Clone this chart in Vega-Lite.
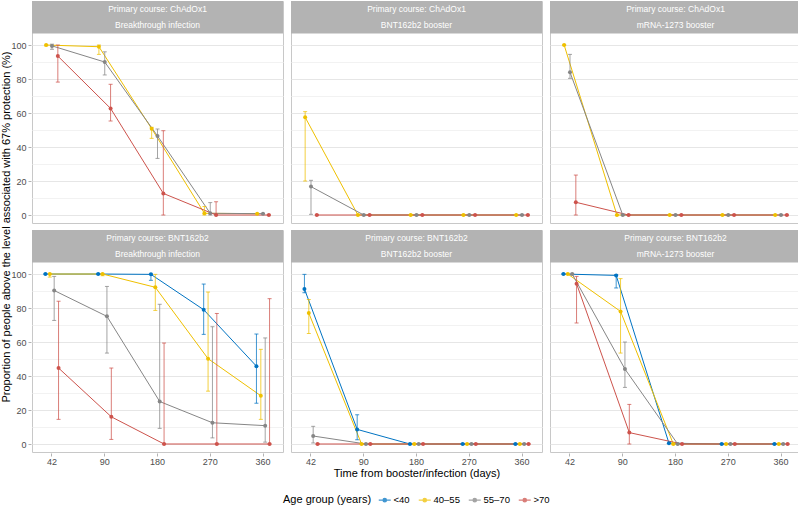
{
  "$schema": "https://vega.github.io/schema/vega-lite/v6.json",
  "background": "white",
  "padding": {"left": 0, "top": 0, "right": 2, "bottom": 0},
  "config": {
    "font": "Liberation Sans",
    "view": {"stroke": "#C8C8C8", "strokeWidth": 1},
    "axis": {
      "domain": false,
      "labelColor": "#4D4D4D",
      "labelFontSize": 9,
      "tickColor": "#B3B3B3",
      "tickSize": 3,
      "titleColor": "black",
      "titleFontSize": 11,
      "titleFontWeight": "normal"
    },
    "header": {
      "titleFontSize": 11,
      "titleFontWeight": "normal",
      "titleColor": "black",
      "labels": false,
      "labelPadding": 0
    },
    "legend": {
      "labelFontSize": 9.5,
      "titleFontSize": 11,
      "titleFontWeight": "normal",
      "labelColor": "black"
    }
  },
  "data": {
    "values": [
      {"primary": "ChAdOx1", "booster": "Breakthrough infection", "age": "40–55", "day": 42, "pct": 100, "lo": 99.5, "hi": 100},
      {"primary": "ChAdOx1", "booster": "Breakthrough infection", "age": "40–55", "day": 90, "pct": 99, "lo": 94.5, "hi": 100},
      {"primary": "ChAdOx1", "booster": "Breakthrough infection", "age": "40–55", "day": 180, "pct": 50.8, "lo": 45.1, "hi": 51.6},
      {"primary": "ChAdOx1", "booster": "Breakthrough infection", "age": "40–55", "day": 270, "pct": 1, "lo": 0, "hi": 5},
      {"primary": "ChAdOx1", "booster": "Breakthrough infection", "age": "40–55", "day": 360, "pct": 0.8, "lo": 0.8, "hi": 0.8},
      {"primary": "ChAdOx1", "booster": "Breakthrough infection", "age": "55–70", "day": 42, "pct": 99.5, "lo": 97.5, "hi": 100.5},
      {"primary": "ChAdOx1", "booster": "Breakthrough infection", "age": "55–70", "day": 90, "pct": 90, "lo": 82.4, "hi": 96},
      {"primary": "ChAdOx1", "booster": "Breakthrough infection", "age": "55–70", "day": 180, "pct": 46.5, "lo": 33.3, "hi": 50.6},
      {"primary": "ChAdOx1", "booster": "Breakthrough infection", "age": "55–70", "day": 270, "pct": 1, "lo": 0, "hi": 7.3},
      {"primary": "ChAdOx1", "booster": "Breakthrough infection", "age": "55–70", "day": 360, "pct": 0.8, "lo": 0.8, "hi": 0.8},
      {"primary": "ChAdOx1", "booster": "Breakthrough infection", "age": ">70", "day": 42, "pct": 93.5, "lo": 78.2, "hi": 100},
      {"primary": "ChAdOx1", "booster": "Breakthrough infection", "age": ">70", "day": 90, "pct": 62.7, "lo": 55.3, "hi": 76.9},
      {"primary": "ChAdOx1", "booster": "Breakthrough infection", "age": ">70", "day": 180, "pct": 12.7, "lo": 0, "hi": 49.6},
      {"primary": "ChAdOx1", "booster": "Breakthrough infection", "age": ">70", "day": 270, "pct": 0, "lo": 0, "hi": 7.8},
      {"primary": "ChAdOx1", "booster": "Breakthrough infection", "age": ">70", "day": 360, "pct": 0, "lo": 0, "hi": 0},

      {"primary": "ChAdOx1", "booster": "BNT162b2 booster", "age": "40–55", "day": 42, "pct": 57.5, "lo": 20, "hi": 60.8},
      {"primary": "ChAdOx1", "booster": "BNT162b2 booster", "age": "40–55", "day": 90, "pct": 0, "lo": 0, "hi": 0},
      {"primary": "ChAdOx1", "booster": "BNT162b2 booster", "age": "40–55", "day": 180, "pct": 0, "lo": 0, "hi": 0},
      {"primary": "ChAdOx1", "booster": "BNT162b2 booster", "age": "40–55", "day": 270, "pct": 0, "lo": 0, "hi": 0},
      {"primary": "ChAdOx1", "booster": "BNT162b2 booster", "age": "40–55", "day": 360, "pct": 0, "lo": 0, "hi": 0},
      {"primary": "ChAdOx1", "booster": "BNT162b2 booster", "age": "55–70", "day": 42, "pct": 16.7, "lo": 0.4, "hi": 20.4},
      {"primary": "ChAdOx1", "booster": "BNT162b2 booster", "age": "55–70", "day": 90, "pct": 0, "lo": 0, "hi": 0},
      {"primary": "ChAdOx1", "booster": "BNT162b2 booster", "age": "55–70", "day": 180, "pct": 0, "lo": 0, "hi": 0},
      {"primary": "ChAdOx1", "booster": "BNT162b2 booster", "age": "55–70", "day": 270, "pct": 0, "lo": 0, "hi": 0},
      {"primary": "ChAdOx1", "booster": "BNT162b2 booster", "age": "55–70", "day": 360, "pct": 0, "lo": 0, "hi": 0},
      {"primary": "ChAdOx1", "booster": "BNT162b2 booster", "age": ">70", "day": 42, "pct": 0, "lo": 0, "hi": 0},
      {"primary": "ChAdOx1", "booster": "BNT162b2 booster", "age": ">70", "day": 90, "pct": 0, "lo": 0, "hi": 0},
      {"primary": "ChAdOx1", "booster": "BNT162b2 booster", "age": ">70", "day": 180, "pct": 0, "lo": 0, "hi": 0},
      {"primary": "ChAdOx1", "booster": "BNT162b2 booster", "age": ">70", "day": 270, "pct": 0, "lo": 0, "hi": 0},
      {"primary": "ChAdOx1", "booster": "BNT162b2 booster", "age": ">70", "day": 360, "pct": 0, "lo": 0, "hi": 0},

      {"primary": "ChAdOx1", "booster": "mRNA-1273 booster", "age": "40–55", "day": 42, "pct": 100, "lo": 100, "hi": 100},
      {"primary": "ChAdOx1", "booster": "mRNA-1273 booster", "age": "40–55", "day": 90, "pct": 0, "lo": 0, "hi": 0},
      {"primary": "ChAdOx1", "booster": "mRNA-1273 booster", "age": "40–55", "day": 180, "pct": 0, "lo": 0, "hi": 0},
      {"primary": "ChAdOx1", "booster": "mRNA-1273 booster", "age": "40–55", "day": 270, "pct": 0, "lo": 0, "hi": 0},
      {"primary": "ChAdOx1", "booster": "mRNA-1273 booster", "age": "40–55", "day": 360, "pct": 0, "lo": 0, "hi": 0},
      {"primary": "ChAdOx1", "booster": "mRNA-1273 booster", "age": "55–70", "day": 42, "pct": 84, "lo": 80.4, "hi": 94.5},
      {"primary": "ChAdOx1", "booster": "mRNA-1273 booster", "age": "55–70", "day": 90, "pct": 0, "lo": 0, "hi": 0},
      {"primary": "ChAdOx1", "booster": "mRNA-1273 booster", "age": "55–70", "day": 180, "pct": 0, "lo": 0, "hi": 0},
      {"primary": "ChAdOx1", "booster": "mRNA-1273 booster", "age": "55–70", "day": 270, "pct": 0, "lo": 0, "hi": 0},
      {"primary": "ChAdOx1", "booster": "mRNA-1273 booster", "age": "55–70", "day": 360, "pct": 0, "lo": 0, "hi": 0},
      {"primary": "ChAdOx1", "booster": "mRNA-1273 booster", "age": ">70", "day": 42, "pct": 7.5, "lo": 0, "hi": 23.5},
      {"primary": "ChAdOx1", "booster": "mRNA-1273 booster", "age": ">70", "day": 90, "pct": 0, "lo": 0, "hi": 0},
      {"primary": "ChAdOx1", "booster": "mRNA-1273 booster", "age": ">70", "day": 180, "pct": 0, "lo": 0, "hi": 0},
      {"primary": "ChAdOx1", "booster": "mRNA-1273 booster", "age": ">70", "day": 270, "pct": 0, "lo": 0, "hi": 0},
      {"primary": "ChAdOx1", "booster": "mRNA-1273 booster", "age": ">70", "day": 360, "pct": 0, "lo": 0, "hi": 0},

      {"primary": "BNT162b2", "booster": "Breakthrough infection", "age": "<40", "day": 42, "pct": 100, "lo": 100, "hi": 100},
      {"primary": "BNT162b2", "booster": "Breakthrough infection", "age": "<40", "day": 90, "pct": 100, "lo": 100, "hi": 100},
      {"primary": "BNT162b2", "booster": "Breakthrough infection", "age": "<40", "day": 180, "pct": 99.8, "lo": 96.3, "hi": 100},
      {"primary": "BNT162b2", "booster": "Breakthrough infection", "age": "<40", "day": 270, "pct": 79, "lo": 64.5, "hi": 94.1},
      {"primary": "BNT162b2", "booster": "Breakthrough infection", "age": "<40", "day": 360, "pct": 45.8, "lo": 24, "hi": 64.7},
      {"primary": "BNT162b2", "booster": "Breakthrough infection", "age": "40–55", "day": 42, "pct": 100, "lo": 98.2, "hi": 100},
      {"primary": "BNT162b2", "booster": "Breakthrough infection", "age": "40–55", "day": 90, "pct": 100, "lo": 99, "hi": 100},
      {"primary": "BNT162b2", "booster": "Breakthrough infection", "age": "40–55", "day": 180, "pct": 92.2, "lo": 78.6, "hi": 99.8},
      {"primary": "BNT162b2", "booster": "Breakthrough infection", "age": "40–55", "day": 270, "pct": 50.2, "lo": 31.1, "hi": 89.4},
      {"primary": "BNT162b2", "booster": "Breakthrough infection", "age": "40–55", "day": 360, "pct": 28.4, "lo": 14.5, "hi": 55.7},
      {"primary": "BNT162b2", "booster": "Breakthrough infection", "age": "55–70", "day": 42, "pct": 90.3, "lo": 72.7, "hi": 98.6},
      {"primary": "BNT162b2", "booster": "Breakthrough infection", "age": "55–70", "day": 90, "pct": 75.1, "lo": 53.5, "hi": 92.7},
      {"primary": "BNT162b2", "booster": "Breakthrough infection", "age": "55–70", "day": 180, "pct": 25, "lo": 9.2, "hi": 82.2},
      {"primary": "BNT162b2", "booster": "Breakthrough infection", "age": "55–70", "day": 270, "pct": 12.5, "lo": 3.6, "hi": 69},
      {"primary": "BNT162b2", "booster": "Breakthrough infection", "age": "55–70", "day": 360, "pct": 10.8, "lo": 1.1, "hi": 62.4},
      {"primary": "BNT162b2", "booster": "Breakthrough infection", "age": ">70", "day": 42, "pct": 44.7, "lo": 14.5, "hi": 84},
      {"primary": "BNT162b2", "booster": "Breakthrough infection", "age": ">70", "day": 90, "pct": 16, "lo": 2.7, "hi": 44.7},
      {"primary": "BNT162b2", "booster": "Breakthrough infection", "age": ">70", "day": 180, "pct": 0, "lo": 0, "hi": 59.4},
      {"primary": "BNT162b2", "booster": "Breakthrough infection", "age": ">70", "day": 270, "pct": 0, "lo": 0, "hi": 76.8},
      {"primary": "BNT162b2", "booster": "Breakthrough infection", "age": ">70", "day": 360, "pct": 0, "lo": 0, "hi": 85.5},

      {"primary": "BNT162b2", "booster": "BNT162b2 booster", "age": "<40", "day": 42, "pct": 91.2, "lo": 89, "hi": 99.8},
      {"primary": "BNT162b2", "booster": "BNT162b2 booster", "age": "<40", "day": 90, "pct": 8.6, "lo": 2.5, "hi": 17.2},
      {"primary": "BNT162b2", "booster": "BNT162b2 booster", "age": "<40", "day": 180, "pct": 0, "lo": 0, "hi": 0},
      {"primary": "BNT162b2", "booster": "BNT162b2 booster", "age": "<40", "day": 270, "pct": 0, "lo": 0, "hi": 0},
      {"primary": "BNT162b2", "booster": "BNT162b2 booster", "age": "<40", "day": 360, "pct": 0, "lo": 0, "hi": 0},
      {"primary": "BNT162b2", "booster": "BNT162b2 booster", "age": "40–55", "day": 42, "pct": 77, "lo": 65, "hi": 85},
      {"primary": "BNT162b2", "booster": "BNT162b2 booster", "age": "40–55", "day": 90, "pct": 0, "lo": 0, "hi": 0},
      {"primary": "BNT162b2", "booster": "BNT162b2 booster", "age": "40–55", "day": 180, "pct": 0, "lo": 0, "hi": 0},
      {"primary": "BNT162b2", "booster": "BNT162b2 booster", "age": "40–55", "day": 270, "pct": 0, "lo": 0, "hi": 0},
      {"primary": "BNT162b2", "booster": "BNT162b2 booster", "age": "40–55", "day": 360, "pct": 0, "lo": 0, "hi": 0},
      {"primary": "BNT162b2", "booster": "BNT162b2 booster", "age": "55–70", "day": 42, "pct": 4.7, "lo": 0.6, "hi": 10.4},
      {"primary": "BNT162b2", "booster": "BNT162b2 booster", "age": "55–70", "day": 90, "pct": 0, "lo": 0, "hi": 0},
      {"primary": "BNT162b2", "booster": "BNT162b2 booster", "age": "55–70", "day": 180, "pct": 0, "lo": 0, "hi": 0},
      {"primary": "BNT162b2", "booster": "BNT162b2 booster", "age": "55–70", "day": 270, "pct": 0, "lo": 0, "hi": 0},
      {"primary": "BNT162b2", "booster": "BNT162b2 booster", "age": "55–70", "day": 360, "pct": 0, "lo": 0, "hi": 0},
      {"primary": "BNT162b2", "booster": "BNT162b2 booster", "age": ">70", "day": 42, "pct": 0, "lo": 0, "hi": 0},
      {"primary": "BNT162b2", "booster": "BNT162b2 booster", "age": ">70", "day": 90, "pct": 0, "lo": 0, "hi": 0},
      {"primary": "BNT162b2", "booster": "BNT162b2 booster", "age": ">70", "day": 180, "pct": 0, "lo": 0, "hi": 0},
      {"primary": "BNT162b2", "booster": "BNT162b2 booster", "age": ">70", "day": 270, "pct": 0, "lo": 0, "hi": 0},
      {"primary": "BNT162b2", "booster": "BNT162b2 booster", "age": ">70", "day": 360, "pct": 0, "lo": 0, "hi": 0},

      {"primary": "BNT162b2", "booster": "mRNA-1273 booster", "age": "<40", "day": 42, "pct": 100, "lo": 100, "hi": 100},
      {"primary": "BNT162b2", "booster": "mRNA-1273 booster", "age": "<40", "day": 90, "pct": 99.2, "lo": 91.8, "hi": 99.6},
      {"primary": "BNT162b2", "booster": "mRNA-1273 booster", "age": "<40", "day": 180, "pct": 0.5, "lo": 0.5, "hi": 0.5},
      {"primary": "BNT162b2", "booster": "mRNA-1273 booster", "age": "<40", "day": 270, "pct": 0, "lo": 0, "hi": 0},
      {"primary": "BNT162b2", "booster": "mRNA-1273 booster", "age": "<40", "day": 360, "pct": 0, "lo": 0, "hi": 0},
      {"primary": "BNT162b2", "booster": "mRNA-1273 booster", "age": "40–55", "day": 42, "pct": 100, "lo": 100, "hi": 100},
      {"primary": "BNT162b2", "booster": "mRNA-1273 booster", "age": "40–55", "day": 90, "pct": 78, "lo": 53.5, "hi": 97.3},
      {"primary": "BNT162b2", "booster": "mRNA-1273 booster", "age": "40–55", "day": 180, "pct": 0, "lo": 0, "hi": 0},
      {"primary": "BNT162b2", "booster": "mRNA-1273 booster", "age": "40–55", "day": 270, "pct": 0, "lo": 0, "hi": 0},
      {"primary": "BNT162b2", "booster": "mRNA-1273 booster", "age": "40–55", "day": 360, "pct": 0, "lo": 0, "hi": 0},
      {"primary": "BNT162b2", "booster": "mRNA-1273 booster", "age": "55–70", "day": 42, "pct": 100, "lo": 99.5, "hi": 100},
      {"primary": "BNT162b2", "booster": "mRNA-1273 booster", "age": "55–70", "day": 90, "pct": 44.1, "lo": 33.3, "hi": 60},
      {"primary": "BNT162b2", "booster": "mRNA-1273 booster", "age": "55–70", "day": 180, "pct": 0, "lo": 0, "hi": 0},
      {"primary": "BNT162b2", "booster": "mRNA-1273 booster", "age": "55–70", "day": 270, "pct": 0, "lo": 0, "hi": 0},
      {"primary": "BNT162b2", "booster": "mRNA-1273 booster", "age": "55–70", "day": 360, "pct": 0, "lo": 0, "hi": 0},
      {"primary": "BNT162b2", "booster": "mRNA-1273 booster", "age": ">70", "day": 42, "pct": 94.3, "lo": 71.2, "hi": 98.6},
      {"primary": "BNT162b2", "booster": "mRNA-1273 booster", "age": ">70", "day": 90, "pct": 6.7, "lo": 0, "hi": 23.3},
      {"primary": "BNT162b2", "booster": "mRNA-1273 booster", "age": ">70", "day": 180, "pct": 0, "lo": 0, "hi": 0},
      {"primary": "BNT162b2", "booster": "mRNA-1273 booster", "age": ">70", "day": 270, "pct": 0, "lo": 0, "hi": 0},
      {"primary": "BNT162b2", "booster": "mRNA-1273 booster", "age": ">70", "day": 360, "pct": 0, "lo": 0, "hi": 0}
    ]
  },
  "facet": {
    "row": {
      "field": "primary",
      "sort": ["ChAdOx1", "BNT162b2"],
      "header": {"title": "Proportion of people above the level associated with 67% protection (%)", "titleOrient": "left", "titlePadding": -12}
    },
    "column": {
      "field": "booster",
      "sort": ["Breakthrough infection", "BNT162b2 booster", "mRNA-1273 booster"],
      "header": {"title": "Time from booster/infection (days)", "titleOrient": "bottom", "titlePadding": -8}
    }
  },
  "spacing": {"row": 5, "column": 6},
  "resolve": {"scale": {"xOffset": "independent"}},
  "spec": {
    "width": 251,
    "height": 222,
    "encoding": {
      "y": {
        "type": "quantitative",
        "scale": {"domain": [-4.7, 125.9], "nice": false, "zero": false},
        "axis": {
          "title": null,
          "values": [0, 10, 20, 30, 40, 50, 60, 70, 80, 90, 100],
          "labelExpr": "datum.value % 20 === 0 ? datum.label : ''",
          "gridColor": {"condition": {"test": "datum.value % 20 === 0", "value": "#E6E6E6"}, "value": "#F2F2F2"},
          "tickOpacity": {"condition": {"test": "datum.value % 20 === 0", "value": 1}, "value": 0},
          "labelPadding": 2
        }
      }
    },
    "layer": [
      {
        "encoding": {
          "xOffset": {"field": "age", "sort": ["<40", "40–55", "55–70", ">70"], "scale": {"paddingInner": 0, "paddingOuter": 0}},
          "color": {
            "field": "age",
            "type": "nominal",
            "scale": {"domain": ["<40", "40–55", "55–70", ">70"], "range": ["#0073C2", "#EFC000", "#868686", "#CD534C"]},
            "legend": {
              "title": "Age group (years)",
              "orient": "none",
              "legendX": 251,
              "legendY": 494,
              "direction": "horizontal",
              "titleOrient": "left",
              "titlePadding": 8,
              "symbolType": "M-1.6,0L1.6,0M-0.45,0A0.45,0.45 0 1,0 0.45,0A0.45,0.45 0 1,0 -0.45,0",
              "symbolSize": 56,
              "symbolStrokeWidth": 1.3,
              "labelOffset": 4,
              "columnPadding": 6
            }
          }
        },
        "layer": [
          {
            "mark": {"type": "line", "strokeWidth": 1},
            "encoding": {
              "x": {
                "field": "day",
                "type": "ordinal",
                "scale": {"domain": [42, 90, 180, 270, 360], "paddingInner": 0.668, "paddingOuter": 0.213},
                "axis": {"title": null, "labelAngle": 0, "gridColor": "#E6E6E6", "gridWidth": 0.8, "labelPadding": 1}
              },
              "y": {"field": "pct", "type": "quantitative"}
            }
          },
          {
            "mark": {"type": "rule", "strokeWidth": 1, "opacity": 0.75},
            "encoding": {
              "x": {"field": "day", "type": "ordinal", "axis": null},
              "y": {"field": "lo", "type": "quantitative"},
              "y2": {"field": "hi"}
            }
          },
          {
            "mark": {"type": "tick", "thickness": 1, "size": 4, "opacity": 0.75},
            "encoding": {
              "x": {"field": "day", "type": "ordinal", "axis": null},
              "y": {"field": "lo", "type": "quantitative"}
            }
          },
          {
            "mark": {"type": "tick", "thickness": 1, "size": 4, "opacity": 0.75},
            "encoding": {
              "x": {"field": "day", "type": "ordinal", "axis": null},
              "y": {"field": "hi", "type": "quantitative"}
            }
          },
          {
            "mark": {"type": "point", "filled": true, "size": 16, "opacity": 1},
            "encoding": {
              "x": {
                "field": "day",
                "type": "ordinal",
                "axis": {"title": null, "values": [42, 90, 180, 270], "bandPosition": 2.007, "labels": false, "ticks": false, "gridColor": "#EFEFEF", "gridWidth": 0.6}
              },
              "y": {"field": "pct", "type": "quantitative"}
            }
          }
        ],
        "resolve": {"axis": {"x": "independent"}}
      },
      {
        "transform": [
          {"aggregate": [{"op": "count", "as": "n"}], "groupby": ["primary", "booster"]},
          {"calculate": "'Primary course: ' + datum.primary", "as": "strip"}
        ],
        "layer": [
          {
            "mark": {"type": "rect", "color": "#B3B3B3"},
            "encoding": {"y": {"datum": 106.8}, "y2": {"datum": 125.9}}
          },
          {
            "mark": {"type": "text", "color": "white", "fontSize": 8.5, "baseline": "middle"},
            "encoding": {"y": {"datum": 121.1}, "text": {"field": "strip"}}
          },
          {
            "mark": {"type": "text", "color": "white", "fontSize": 8.5, "baseline": "middle"},
            "encoding": {"y": {"datum": 111.8}, "text": {"field": "booster"}}
          }
        ]
      }
    ]
  }
}
